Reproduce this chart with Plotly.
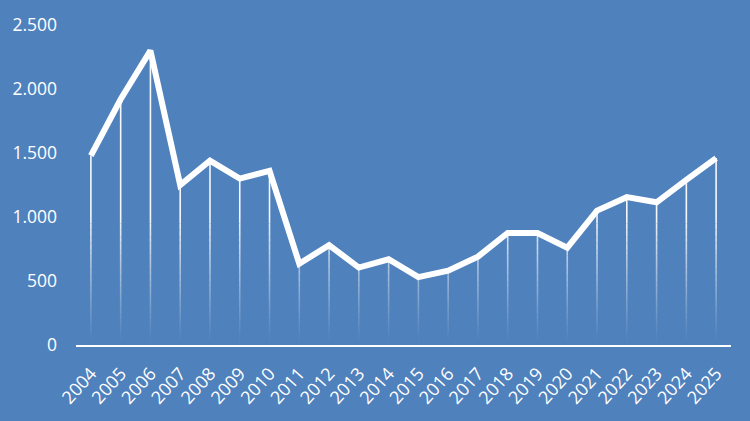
import numpy as np
import plotly.graph_objects as go

# Werte
jahre = [str(j) for j in range(2004, 2026)]
werte = [1480, 1920, 2300, 1250, 1440, 1300, 1360, 635, 780, 605, 670,
         530, 580, 690, 875, 875, 760, 1050, 1155, 1115, 1290, 1460]
y_ticks = [0, 500, 1000, 1500, 2000, 2500]

BG = '#4F81BD'
FONT = 'Open Sans'

fig = go.Figure()

# Lotlinien, die nach unten ausblenden (in Bändern mit abnehmender Deckkraft)
fade_top = 1000
bands = np.linspace(0, fade_top, 21)
for lo, hi in zip(bands[:-1], bands[1:]):
    xs, ys = [], []
    for j, v in zip(jahre, werte):
        if v > lo:
            xs += [j, j, None]
            ys += [lo, min(hi, v), None]
    alpha = 0.95 * ((lo + hi) / 2 / fade_top) ** 1.2
    fig.add_trace(go.Scatter(x=xs, y=ys, mode='lines', hoverinfo='skip',
                             line=dict(color=f'rgba(255,255,255,{alpha:.3f})', width=1.6),
                             showlegend=False))

xs, ys = [], []
for j, v in zip(jahre, werte):
    if v > fade_top:
        xs += [j, j, None]
        ys += [fade_top, v, None]
fig.add_trace(go.Scatter(x=xs, y=ys, mode='lines', hoverinfo='skip',
                         line=dict(color='rgba(255,255,255,0.95)', width=1.6),
                         showlegend=False))

# Hauptlinie
fig.add_trace(go.Scatter(x=jahre, y=werte, mode='lines',
                         line=dict(color='white', width=6),
                         showlegend=False))

fig.update_layout(
    width=750, height=421,
    paper_bgcolor=BG, plot_bgcolor=BG,
    margin=dict(l=76, r=19, t=22, b=76),
    separators=',.',
    font=dict(family=FONT, color='white', size=17.5),
)
fig.update_xaxes(
    type='category', categoryorder='array', categoryarray=jahre,
    range=[-0.5, len(jahre) - 0.5],
    showgrid=False, zeroline=False,
    showline=True, linecolor='white', linewidth=2,
    ticks='', tickangle=-48, ticklabelstandoff=9, tickfont=dict(size=18),
)
fig.update_yaxes(
    range=[0, 2500], tickvals=y_ticks, tickformat=',',
    showgrid=False, zeroline=False, showline=False,
    ticks='', ticklabelstandoff=18, tickfont=dict(size=17.5),
)

# Seitenrand entfernen, damit die Grafik genau im Fenster sitzt
fig.write_html('out.html',
               config={'displayModeBar': False},
               post_script="document.body.style.margin='0';"
                           "document.body.style.background='#4F81BD';")
